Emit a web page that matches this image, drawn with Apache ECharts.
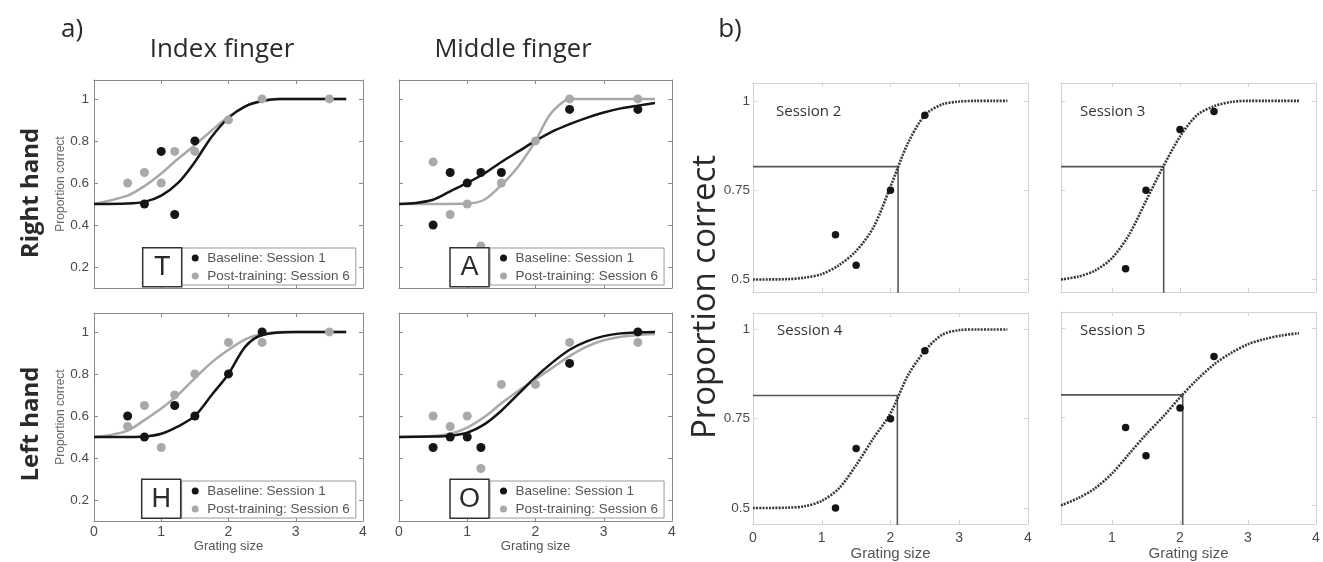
<!DOCTYPE html>
<html>
<head>
<meta charset="utf-8">
<script src="https://cdn.jsdelivr.net/npm/echarts@6/dist/echarts.min.js"></script>
<style>
  html, body { margin: 0; padding: 0; background: #fff; }
  #chart { width: 1323px; height: 562px; }
</style>
</head>
<body>
<div id="chart"></div>
<script>
// ---- data ----
// a) measured points, baseline (session 1) and post-training (session 6)
const rhIndexBaseX = [0.75, 1, 1.2, 1.5];
const rhIndexBaseY = [0.5, 0.75, 0.45, 0.8];
const rhIndexPostX = [0.5, 0.75, 1, 1.2, 1.5, 2, 2.5, 3.5];
const rhIndexPostY = [0.6, 0.65, 0.6, 0.75, 0.75, 0.9, 1, 1];

const rhMiddleBaseX = [0.5, 0.75, 1, 1.2, 1.5, 2.5, 3.5];
const rhMiddleBaseY = [0.4, 0.65, 0.6, 0.65, 0.65, 0.95, 0.95];
const rhMiddlePostX = [0.5, 0.75, 1, 1.2, 1.5, 2, 2.5, 3.5];
const rhMiddlePostY = [0.7, 0.45, 0.5, 0.3, 0.6, 0.8, 1, 1];

const lhIndexBaseX = [0.5, 0.75, 1.2, 1.5, 2, 2.5];
const lhIndexBaseY = [0.6, 0.5, 0.65, 0.6, 0.8, 1];
const lhIndexPostX = [0.5, 0.75, 1, 1.2, 1.5, 2, 2.5, 3.5];
const lhIndexPostY = [0.55, 0.65, 0.45, 0.7, 0.8, 0.95, 0.95, 1];

const lhMiddleBaseX = [0.5, 0.75, 1, 1.2, 2.5, 3.5];
const lhMiddleBaseY = [0.45, 0.5, 0.5, 0.45, 0.85, 1];
const lhMiddlePostX = [0.5, 0.75, 1, 1.2, 1.5, 2, 2.5, 3.5];
const lhMiddlePostY = [0.6, 0.55, 0.6, 0.35, 0.75, 0.75, 0.95, 0.95];

// a) fitted curves
const fitX13 = [0, 0.5, 0.75, 1, 1.25, 1.5, 1.75, 2, 2.25, 2.5, 2.75, 3, 3.75];
const rhIndexBaseFit = [0.5, 0.502, 0.51, 0.54, 0.6, 0.7, 0.82, 0.91, 0.965, 0.99, 1, 1, 1];
const rhIndexPostFit = [0.5, 0.54, 0.585, 0.645, 0.715, 0.78, 0.85, 0.915, 0.965, 0.99, 1, 1, 1];

const fitX16 = [0, 0.25, 0.5, 0.75, 1, 1.25, 1.5, 1.75, 2, 2.25, 2.5, 2.75, 3, 3.25, 3.5, 3.75];
const rhMiddleBaseFit = [0.5, 0.505, 0.52, 0.56, 0.6, 0.645, 0.7, 0.75, 0.8, 0.845, 0.88, 0.91, 0.935, 0.955, 0.968, 0.98];
const rhMiddlePostFitX = [0, 0.5, 1, 1.25, 1.5, 1.75, 2, 2.2, 2.4, 2.5, 3, 3.75];
const rhMiddlePostFit = [0.5, 0.5, 0.502, 0.52, 0.59, 0.68, 0.8, 0.92, 0.985, 1, 1, 1];

const lhIndexBaseFitX = [0, 0.5, 0.75, 1, 1.25, 1.5, 1.75, 2, 2.25, 2.5, 3, 3.75];
const lhIndexBaseFit = [0.5, 0.5, 0.502, 0.515, 0.55, 0.6, 0.7, 0.8, 0.93, 0.985, 1, 1];
const lhIndexPostFitX = [0, 0.25, 0.5, 0.75, 1, 1.25, 1.5, 1.75, 2, 2.25, 2.5, 2.75, 3, 3.75];
const lhIndexPostFit = [0.5, 0.51, 0.53, 0.58, 0.635, 0.7, 0.78, 0.855, 0.915, 0.965, 0.99, 1, 1, 1];

const fitX15 = [0, 0.5, 0.75, 1, 1.25, 1.5, 1.75, 2, 2.25, 2.5, 2.75, 3, 3.25, 3.5, 3.75];
const lhMiddleBaseFit = [0.5, 0.502, 0.506, 0.52, 0.56, 0.625, 0.705, 0.785, 0.855, 0.915, 0.955, 0.98, 0.993, 0.998, 1];
const lhMiddlePostFit = [0.5, 0.505, 0.515, 0.545, 0.595, 0.66, 0.72, 0.775, 0.83, 0.885, 0.93, 0.96, 0.977, 0.985, 0.99];

// b) sessions 2-5
const sessionX = [1.2, 1.5, 2, 2.5];
const session2Y = [0.625, 0.54, 0.75, 0.96];
const session3Y = [0.53, 0.75, 0.92, 0.97];
const session4Y = [0.5, 0.667, 0.75, 0.94];
const session5Y = [0.72, 0.64, 0.775, 0.92];

const sessFitX0 = [0, 0.5, 0.75, 1, 1.25, 1.5, 1.75, 2, 2.25, 2.5, 2.75, 3, 3.25, 3.5, 3.7];
const sessFitX1 = [0.25, 0.5, 0.75, 1, 1.25, 1.5, 1.75, 2, 2.25, 2.5, 2.75, 3, 3.25, 3.5, 3.75];
const session2Fit = [0.5, 0.501, 0.505, 0.515, 0.54, 0.58, 0.645, 0.76, 0.88, 0.96, 0.99, 0.998, 1, 1, 1];
const session3Fit = [0.5, 0.508, 0.525, 0.56, 0.625, 0.72, 0.815, 0.9, 0.96, 0.985, 0.997, 1, 1, 1, 1];
const session4Fit = [0.5, 0.501, 0.505, 0.52, 0.555, 0.62, 0.695, 0.765, 0.87, 0.94, 0.985, 0.998, 1, 1, 1];
const session5Fit = [0.5, 0.52, 0.548, 0.59, 0.645, 0.7, 0.75, 0.805, 0.855, 0.898, 0.93, 0.955, 0.97, 0.98, 0.986];

// threshold (grating size, proportion correct) for each session
const session2Thr = [2.11, 0.816];
const session3Thr = [1.76, 0.816];
const session4Thr = [2.1, 0.815];
const session5Thr = [2.04, 0.812];

// ---- helpers ----
const zip = (xs, ys) => xs.map((x, i) => [x, ys[i]]);
const ARIAL = 'Arial, "Liberation Sans", sans-serif';
const SANS = '"Open Sans", "Noto Sans", sans-serif';

const panels = [
  // a) panels
  { grid: { left: 94, top: 80, width: 269, height: 208 }, x: [0, 4], y: [0.1, 1.09], kind: 'a', xLab: false, yLab: true },
  { grid: { left: 399, top: 80, width: 273, height: 208 }, x: [0, 4], y: [0.1, 1.09], kind: 'a', xLab: false, yLab: false },
  { grid: { left: 94, top: 313, width: 269, height: 208 }, x: [0, 4], y: [0.1, 1.09], kind: 'a', xLab: true, yLab: true },
  { grid: { left: 399, top: 313, width: 273, height: 208 }, x: [0, 4], y: [0.1, 1.09], kind: 'a', xLab: true, yLab: false },
  // b) panels
  { grid: { left: 753, top: 83, width: 275, height: 209 }, x: [0, 4], y: [0.465, 1.05], kind: 'b', xLab: false, yLab: true },
  { grid: { left: 1061, top: 83, width: 255, height: 209 }, x: [0.25, 4], y: [0.465, 1.05], kind: 'b', xLab: false, yLab: false },
  { grid: { left: 753, top: 313, width: 275, height: 213 }, x: [0, 4], y: [0.455, 1.046], kind: 'b', xLab: true, yLab: true },
  { grid: { left: 1061, top: 312, width: 255, height: 215 }, x: [0.25, 4], y: [0.447, 1.046], kind: 'b', xLab: true, yLab: false }
];

const grids = [], xAxes = [], yAxes = [];
panels.forEach((p, i) => {
  grids.push(p.grid);
  const isA = p.kind === 'a';
  const frame = isA ? '#8a8a8a' : '#d2d2d2';
  const xTicks = [1, 2, 3];
  const yTicks = isA ? [0.2, 0.4, 0.6, 0.8, 1] : [0.5, 0.75, 1];
  const xLabVals = p.x[0] === 0 ? [0, 1, 2, 3, 4] : [1, 2, 3, 4];
  const tick = { show: true, inside: true, length: 4, lineStyle: { color: frame } };
  const base = {
    type: 'value', gridIndex: i,
    axisLine: { show: true, onZero: false, lineStyle: { color: frame, width: 1 } },
    splitLine: { show: false }
  };
  xAxes.push(Object.assign({}, base, {
    position: 'bottom', min: p.x[0], max: p.x[1],
    axisTick: Object.assign({}, tick, { customValues: xTicks }),
    axisLabel: {
      show: p.xLab, customValues: xLabVals, color: '#4a4a4a',
      fontFamily: ARIAL, fontSize: 14, margin: isA ? 4 : 7
    },
    name: p.xLab ? 'Grating size' : '', nameLocation: 'middle', nameGap: isA ? 19 : 20,
    nameTextStyle: { color: '#555', fontFamily: ARIAL, fontSize: isA ? 13 : 15 }
  }));
  xAxes.push(Object.assign({}, base, {
    position: 'top', min: p.x[0], max: p.x[1],
    axisTick: Object.assign({}, tick, { customValues: xTicks }),
    axisLabel: { show: false }
  }));
  yAxes.push(Object.assign({}, base, {
    position: 'left', min: p.y[0], max: p.y[1],
    axisTick: Object.assign({}, tick, { customValues: yTicks }),
    axisLabel: {
      show: p.yLab, customValues: yTicks, color: '#4a4a4a',
      fontFamily: ARIAL, fontSize: 13.5, margin: isA ? 5 : 3
    },
    name: isA && p.yLab ? 'Proportion correct' : '', nameLocation: 'middle', nameGap: 26,
    nameTextStyle: { color: '#666', fontFamily: ARIAL, fontSize: 12 }
  }));
  yAxes.push(Object.assign({}, base, {
    position: 'right', min: p.y[0], max: p.y[1],
    axisTick: Object.assign({}, tick, { customValues: yTicks }),
    axisLabel: { show: false }
  }));
});

const BLACK = '#151515', GREY = '#a9a9a9';
const series = [];
function addA(i, baseX, baseY, postX, postY, baseFit, postFit) {
  const ax = { xAxisIndex: i * 2, yAxisIndex: i * 2 };
  series.push(Object.assign({ type: 'line', name: 'fit post', data: postFit, smooth: 0.3, showSymbol: false,
    lineStyle: { color: GREY, width: 2.5 }, z: 2 }, ax));
  series.push(Object.assign({ type: 'line', name: 'fit base', data: baseFit, smooth: 0.3, showSymbol: false,
    lineStyle: { color: BLACK, width: 2.5 }, z: 2 }, ax));
  series.push(Object.assign({ type: 'scatter', name: 'Post-training: Session 6', data: zip(postX, postY),
    symbolSize: 9, itemStyle: { color: GREY, opacity: 1 }, z: 3 }, ax));
  series.push(Object.assign({ type: 'scatter', name: 'Baseline: Session 1', data: zip(baseX, baseY),
    symbolSize: 9, itemStyle: { color: BLACK, opacity: 1 }, z: 4 }, ax));
}
function addB(i, ys, fitX, fitY, thr, xmin) {
  const ax = { xAxisIndex: i * 2, yAxisIndex: i * 2 };
  series.push(Object.assign({ type: 'line', name: 'threshold', data: [[xmin, thr[1]], [thr[0], thr[1]], [thr[0], 0.3]],
    showSymbol: false, lineStyle: { color: '#555', width: 1.6 }, z: 2 }, ax));
  series.push(Object.assign({ type: 'line', name: 'fit', data: zip(fitX, fitY), smooth: 0.3, showSymbol: false,
    lineStyle: { color: '#3a3a3a', width: 2.6, type: [2, 1.2] }, z: 3 }, ax));
  series.push(Object.assign({ type: 'scatter', name: 'session', data: zip(sessionX, ys),
    symbolSize: 7.5, itemStyle: { color: BLACK, opacity: 1 }, z: 4 }, ax));
}

addA(0, rhIndexBaseX, rhIndexBaseY, rhIndexPostX, rhIndexPostY, zip(fitX13, rhIndexBaseFit), zip(fitX13, rhIndexPostFit));
addA(1, rhMiddleBaseX, rhMiddleBaseY, rhMiddlePostX, rhMiddlePostY, zip(fitX16, rhMiddleBaseFit), zip(rhMiddlePostFitX, rhMiddlePostFit));
addA(2, lhIndexBaseX, lhIndexBaseY, lhIndexPostX, lhIndexPostY, zip(lhIndexBaseFitX, lhIndexBaseFit), zip(lhIndexPostFitX, lhIndexPostFit));
addA(3, lhMiddleBaseX, lhMiddleBaseY, lhMiddlePostX, lhMiddlePostY, zip(fitX15, lhMiddleBaseFit), zip(fitX15, lhMiddlePostFit));
addB(4, session2Y, sessFitX0, session2Fit, session2Thr, 0);
addB(5, session3Y, sessFitX1, session3Fit, session3Thr, 0.25);
addB(6, session4Y, sessFitX0, session4Fit, session4Thr, 0);
addB(7, session5Y, sessFitX1, session5Fit, session5Thr, 0.25);

// legends inside the a) panels
const legendPos = [[181.7, 248], [490, 248], [181.7, 481], [490, 481]];
const legends = legendPos.map(([l, t]) => ({
  left: l, top: t, orient: 'vertical', selectedMode: false,
  backgroundColor: '#fff', borderColor: '#9a9a9a', borderWidth: 1,
  padding: [2, 6, 1, 10], itemGap: 2, itemWidth: 14, itemHeight: 7,
  textStyle: { color: '#555', fontFamily: ARIAL, fontSize: 13.5, lineHeight: 16 },
  data: [
    { name: 'Baseline: Session 1', icon: 'circle', itemStyle: { color: BLACK } },
    { name: 'Post-training: Session 6', icon: 'circle', itemStyle: { color: GREY } }
  ]
}));

// letter boxes and figure text
const letters = [['T', 142.7, 247.7], ['A', 450, 247.7], ['H', 141.7, 479.3], ['O', 450, 479.3]];
const graphic = [];
letters.forEach(([ch, x, y]) => {
  graphic.push({ type: 'rect', z: 20, shape: { x: x, y: y, width: 39, height: 39 },
    style: { fill: '#fff', stroke: '#333', lineWidth: 1.5 } });
  graphic.push({ type: 'text', z: 21, x: x + 19.5, y: y + 20,
    style: { text: ch, font: '27px ' + ARIAL, fill: '#2a2a2a', align: 'center', verticalAlign: 'middle',
      textAlign: 'center', textVerticalAlign: 'middle' } });
});
function label(text, x, y, font, rot, color) {
  graphic.push({ type: 'text', z: 20, x: x, y: y, rotation: rot || 0,
    style: { text: text, font: font, fill: color || '#2a2a2a', align: 'center', verticalAlign: 'middle',
      textAlign: 'center', textVerticalAlign: 'middle' } });
}
label('a)', 72, 30, '26px ' + SANS);
label('b)', 730, 30, '26px ' + SANS);
label('Index finger', 222, 50, '26px ' + SANS);
label('Middle finger', 513, 50, '25.5px ' + SANS);
label('Right hand', 31, 193, 'bold 24px ' + SANS, Math.PI / 2);
label('Left hand', 31, 424, 'bold 24px ' + SANS, Math.PI / 2);
label('Proportion correct', 706, 297, '33px ' + SANS, Math.PI / 2);
function sessionLabel(text, x, y) {
  graphic.push({ type: 'text', z: 20, x: x, y: y,
    style: { text: text, font: '15px ' + SANS, fill: '#333', align: 'left', verticalAlign: 'middle',
      textAlign: 'left', textVerticalAlign: 'middle' } });
}
sessionLabel('Session 2', 776, 112);
sessionLabel('Session 3', 1080, 112);
sessionLabel('Session 4', 777, 331);
sessionLabel('Session 5', 1080, 331);

const chart = echarts.init(document.getElementById('chart'), null, { renderer: 'canvas' });
chart.setOption({
  animation: false,
  backgroundColor: '#fff',
  grid: grids,
  xAxis: xAxes,
  yAxis: yAxes,
  legend: legends,
  series: series,
  graphic: graphic
});
</script>
</body>
</html>
